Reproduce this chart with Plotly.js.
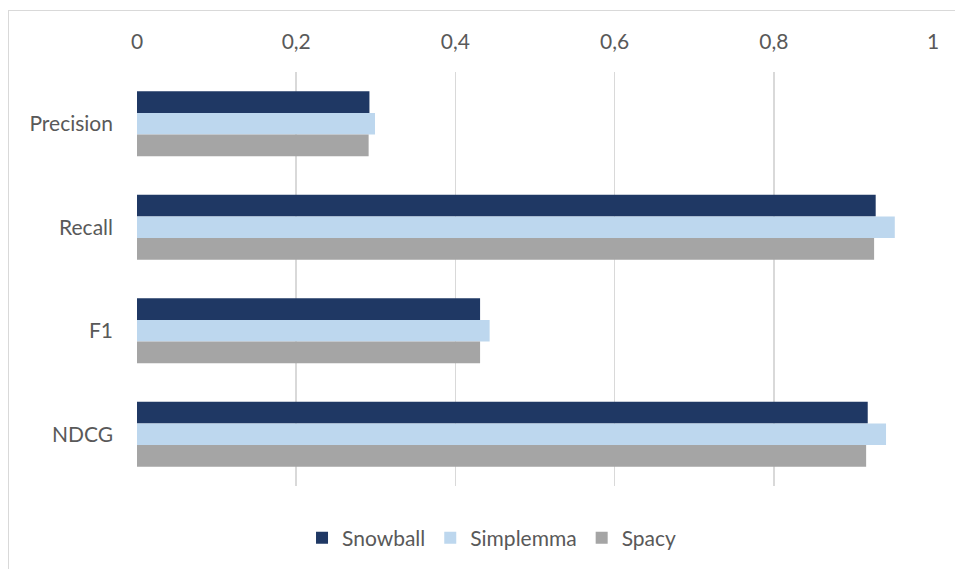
<!DOCTYPE html>
<html>
<head>
<meta charset="utf-8">
<script src="https://cdn.plot.ly/plotly-3.0.1.min.js"></script>
<style>
  html, body { margin: 0; padding: 0; background: #fff; overflow: hidden; }
  #frame { position: absolute; left: 8px; top: 10px; width: 1000px; height: 600px;
           border: 1px solid #d9d9d9; box-sizing: border-box; pointer-events: none; z-index: 2; }
  #chart { position: absolute; left: 0; top: 0; width: 955px; height: 569px; }
</style>
</head>
<body>
<div id="chart"></div>
<div id="frame"></div>
<script>
// Evaluation metrics per lemmatizer
const metrics = ["Precision", "Recall", "F1", "NDCG"];
const snowball = [0.292, 0.928, 0.431, 0.918];
const simplemma = [0.299, 0.952, 0.443, 0.941];
const spacy = [0.291, 0.926, 0.431, 0.916];
const xTicks = [0, 0.2, 0.4, 0.6, 0.8, 1];

const font = { family: "Lato, 'Open Sans', sans-serif", size: 21, color: "#595959" };

const traces = [
  { name: "Snowball", x: snowball, color: "#1F3864" },
  { name: "Simplemma", x: simplemma, color: "#BDD7EE" },
  { name: "Spacy", x: spacy, color: "#A5A5A5" }
].map(s => ({
  type: "bar",
  orientation: "h",
  name: s.name,
  x: s.x,
  y: metrics,
  marker: { color: s.color },
  hoverinfo: "x+name"
}));

const layout = {
  width: 955,
  height: 569,
  margin: { l: 137, r: 22, t: 72, b: 82 },
  paper_bgcolor: "#fff",
  plot_bgcolor: "#fff",
  font: font,
  separators: ",.",
  barmode: "group",
  bargap: 0.37,
  bargroupgap: 0,
  xaxis: {
    side: "top",
    range: [0, 1],
    tickvals: xTicks,
    showgrid: true,
    gridcolor: "#d9d9d9",
    gridwidth: 1.5,
    zeroline: false,
    showline: false,
    ticks: "",
    ticklabelstandoff: 18,
    tickfont: font,
    fixedrange: true
  },
  yaxis: {
    autorange: "reversed",
    showgrid: false,
    zeroline: false,
    showline: false,
    ticks: "",
    ticklabelstandoff: 23,
    tickfont: font,
    fixedrange: true
  },
  legend: {
    orientation: "h",
    x: 0.446,
    xanchor: "center",
    y: -0.123,
    yanchor: "middle",
    font: font,
    traceorder: "normal"
  },
  showlegend: true
};

Plotly.newPlot("chart", traces, layout, { displayModeBar: false, staticPlot: true });
</script>
</body>
</html>
